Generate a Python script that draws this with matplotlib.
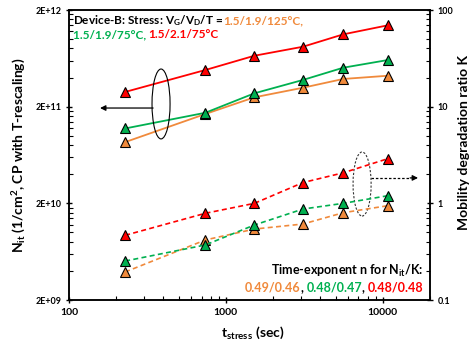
import numpy as np
import matplotlib.pyplot as plt
from matplotlib.patches import Ellipse
from matplotlib.ticker import FixedLocator, FixedFormatter, NullFormatter

plt.rcParams['font.family'] = ['Lato', 'DejaVu Sans']
plt.rcParams['font.weight'] = 'bold'
plt.rcParams['mathtext.default'] = 'regular'

# stress time (sec)
t_stress = [228, 740, 1520, 3100, 5600, 10800]

# N_it (1/cm^2), left axis
nit_125 = [8.6e10, 1.68e11, 2.5e11, 3.14e11, 3.87e11, 4.18e11]
nit_19_75 = [1.19e11, 1.73e11, 2.75e11, 3.78e11, 5.06e11, 6.08e11]
nit_21_75 = [2.84e11, 4.79e11, 6.73e11, 8.34e11, 1.12e12, 1.39e12]

# mobility degradation ratio K, right axis
k_125 = [0.195, 0.418, 0.542, 0.611, 0.80, 0.946]
k_19_75 = [0.253, 0.371, 0.597, 0.873, 1.0, 1.20]
k_21_75 = [0.467, 0.789, 1.0, 1.64, 2.07, 2.90]

c_org = '#F08A3C'
c_grn = '#00B050'
c_red = '#FF0000'

fig = plt.figure(figsize=(4.7, 3.45), dpi=100)
ax = fig.add_axes([0.1468, 0.1304, 0.768, 0.8406])
ax2 = ax.twinx()

mk = dict(marker='^', ms=7.5, mec='k', mew=0.8)
for y, c in [(nit_125, c_org), (nit_19_75, c_grn), (nit_21_75, c_red)]:
    ax.plot(t_stress, y, '-', color=c, lw=1.3, mfc=c, **mk)
for y, c in [(k_125, c_org), (k_19_75, c_grn), (k_21_75, c_red)]:
    ax2.plot(t_stress, y, '--', color=c, lw=1.2, dashes=(3, 2), mfc=c, **mk)

ax.set_xscale('log')
ax.set_yscale('log')
ax2.set_yscale('log')
ax.set_xlim(100, 20000)
ax.set_ylim(2e9, 2e12)
ax2.set_ylim(0.1, 100)

# axis ticks
ax.xaxis.set_major_locator(FixedLocator([100, 1000, 10000]))
ax.xaxis.set_major_formatter(FixedFormatter(['100', '1000', '10000']))
ax.xaxis.set_minor_locator(FixedLocator([k * 10**n for n in (2, 3, 4) for k in range(2, 10)]))
ax.xaxis.set_minor_formatter(NullFormatter())

ax.yaxis.set_major_locator(FixedLocator([2e9, 2e10, 2e11, 2e12]))
ax.yaxis.set_major_formatter(FixedFormatter(['2E+09', '2E+10', '2E+11', '2E+12']))
ax.yaxis.set_minor_locator(FixedLocator([2 * k * 10**n for n in (9, 10, 11) for k in range(2, 10)]))
ax.yaxis.set_minor_formatter(NullFormatter())

ax2.yaxis.set_major_locator(FixedLocator([0.1, 1, 10, 100]))
ax2.yaxis.set_major_formatter(FixedFormatter(['0.1', '1', '10', '100']))
ax2.yaxis.set_minor_locator(FixedLocator([k * 10.0**n for n in (-1, 0, 1) for k in range(2, 10)]))
ax2.yaxis.set_minor_formatter(NullFormatter())

for a in (ax, ax2):
    a.tick_params(which='major', direction='inout', length=5, width=1)
    a.tick_params(which='minor', direction='in', length=3, width=0.8)
    for s in a.spines.values():
        s.set_linewidth(1.1)
ax.tick_params(axis='x', labelsize=7.5, pad=3)
ax.tick_params(axis='y', labelsize=6.5, pad=3)
ax2.tick_params(axis='y', labelsize=6.5, pad=3)

fig.text(19 / 470, 1 - 155 / 345, 'N$_{it}$ (1/cm$^2$, CP with T-rescaling)',
         rotation=90, ha='center', va='center', fontsize=10)
fig.text(464 / 470, 1 - 143 / 345, 'Mobility degradation ratio K',
         rotation=90, ha='center', va='center', fontsize=10)
fig.text(253 / 470, 1 - 333 / 345, 't$_{stress}$ (sec)',
         ha='center', va='center', fontsize=10)

# stress condition header, coloured by series
fs = 8.5
prev = ax2.text(0.012, 0.952, 'Device-B: Stress: V$_G$/V$_D$/T =', transform=ax2.transAxes,
                fontsize=fs, va='baseline', color='k')
ax2.annotate('1.5/1.9/125°C,', xy=(1, 0.952), xycoords=(prev, 'axes fraction'),
             fontsize=fs, va='baseline', color=c_org)
prev = ax2.text(0.010, 0.902, '1.5/1.9/75°C, ', transform=ax2.transAxes,
                fontsize=fs, va='baseline', color=c_grn)
ax2.annotate('1.5/2.1/75°C', xy=(1, 0.902), xycoords=(prev, 'axes fraction'),
             fontsize=fs, va='baseline', color=c_red)

# time exponents, right aligned
fs = 9
ax2.text(0.983, 0.086, 'Time-exponent n for N$_{it}$/K:', transform=ax2.transAxes,
         fontsize=fs, ha='right', va='baseline')
pieces = [('0.48/0.48', c_red), (', ', 'k'), ('0.48/0.47', c_grn), (', ', 'k'), ('0.49/0.46', c_org)]
prev = None
for s, c in pieces:
    if prev is None:
        prev = ax2.text(0.983, 0.029, s, transform=ax2.transAxes, fontsize=fs,
                        ha='right', va='baseline', color=c)
    else:
        prev = ax2.annotate(s, xy=(0, 0.029), xycoords=(prev, 'axes fraction'),
                            fontsize=fs, ha='right', va='baseline', color=c)

# group markers: ellipse + arrow pointing to the relevant axis
ax2.add_patch(Ellipse((0.255, 0.676), 0.050, 0.241, transform=ax2.transAxes,
                      fill=False, ec='k', lw=0.8))
ax2.annotate('', xy=(0.086, 0.662), xytext=(0.233, 0.662), xycoords='axes fraction',
             arrowprops=dict(arrowstyle='-|>', color='k', lw=0.9, mutation_scale=8,
                             shrinkA=0, shrinkB=0))
ax2.add_patch(Ellipse((0.812, 0.40), 0.050, 0.221, transform=ax2.transAxes,
                      fill=False, ec='#333333', lw=0.8, ls=(0, (2, 1.5))))
ax2.plot([0.837, 0.945], [0.421, 0.421], transform=ax2.transAxes, color='k',
         lw=0.9, dashes=(2, 1.5))
ax2.annotate('', xy=(0.967, 0.421), xytext=(0.945, 0.421), xycoords='axes fraction',
             arrowprops=dict(arrowstyle='-|>', color='k', lw=0.9, mutation_scale=8,
                             shrinkA=0, shrinkB=0))

fig.savefig('out.png', dpi=100)
